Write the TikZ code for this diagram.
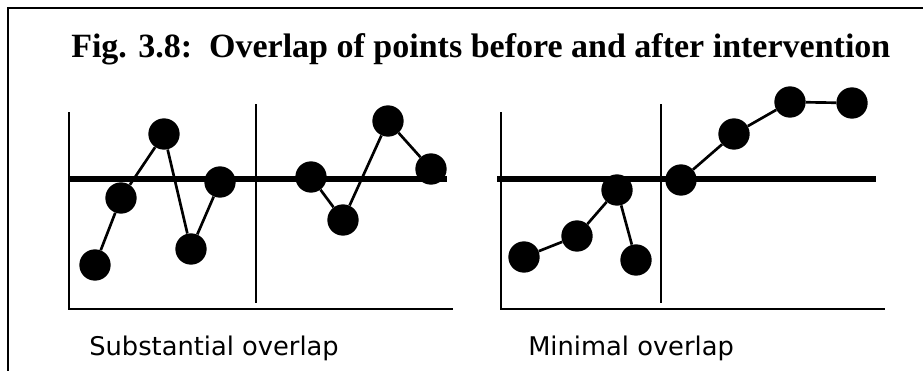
\documentclass[tikz,border=0pt]{standalone}
\usepackage{fontspec}
\setmainfont{Liberation Serif}
\newfontfamily\labelfont{DejaVu Sans}

\begin{document}
\begin{tikzpicture}
	[x=0.75pt, y=-0.75pt,
	 dot/.style={circle, fill, inner sep=0pt, minimum size=23.5pt},
	 axis/.style={line width=2pt},
	 level/.style={line width=3.8pt},
	 link/.style={line width=2pt},
	 caption/.style={anchor=base west, font=\labelfont\fontsize{19.3}{23}\selectfont}]
   \useasboundingbox (0,0) rectangle (923,371);
   \draw[line width=2pt] (923,8) -- (8,8) -- (8,371);
   \node[anchor=base west, inner sep=0pt, font=\fontsize{25.5}{30}\selectfont\bfseries] (title) at (71,57)
        {Fig. 3.8:\ \ Overlap of points before and after intervention};

   % substantial overlap
   \draw[axis] (69,112) -- (69,309) -- (453,309);
   \draw[axis] (256,104) -- (256,303);
   \draw[level] (69,179) -- (447,179);
   \node[dot] (a_1) at (95,265) {};
   \node[dot] (a_2) at (121,198) {};
   \node[dot] (a_3) at (164,134) {};
   \node[dot] (a_4) at (191,249) {};
   \node[dot] (a_5) at (220,182) {};
   \node[dot] (a_6) at (311,177) {};
   \node[dot] (a_7) at (343,220) {};
   \node[dot] (a_8) at (388,121) {};
   \node[dot] (a_9) at (431,169) {};
   \draw[link] (a_1) -- (a_2) -- (a_3) -- (a_4) -- (a_5);
   \draw[link] (a_6) -- (a_7) -- (a_8) -- (a_9);
   \node[caption, inner sep=0pt] (left) at (89,355) {Substantial overlap};

   % minimal overlap
   \draw[axis] (501,112) -- (501,309) -- (885,309);
   \draw[axis] (661,104) -- (661,303);
   \draw[level] (497,179) -- (876,179);
   \node[dot] (b_1) at (524,257) {};
   \node[dot] (b_2) at (577,236) {};
   \node[dot] (b_3) at (617,190) {};
   \node[dot] (b_4) at (636,260) {};
   \node[dot] (b_5) at (681,180) {};
   \node[dot] (b_6) at (734,134) {};
   \node[dot] (b_7) at (790,102) {};
   \node[dot] (b_8) at (852,103) {};
   \draw[link] (b_1) -- (b_2) -- (b_3) -- (b_4);
   \draw[link] (b_5) -- (b_6) -- (b_7) -- (b_8);
   \node[caption, inner sep=0pt] (right) at (528,355) {Minimal overlap};
\end{tikzpicture}
\end{document}
